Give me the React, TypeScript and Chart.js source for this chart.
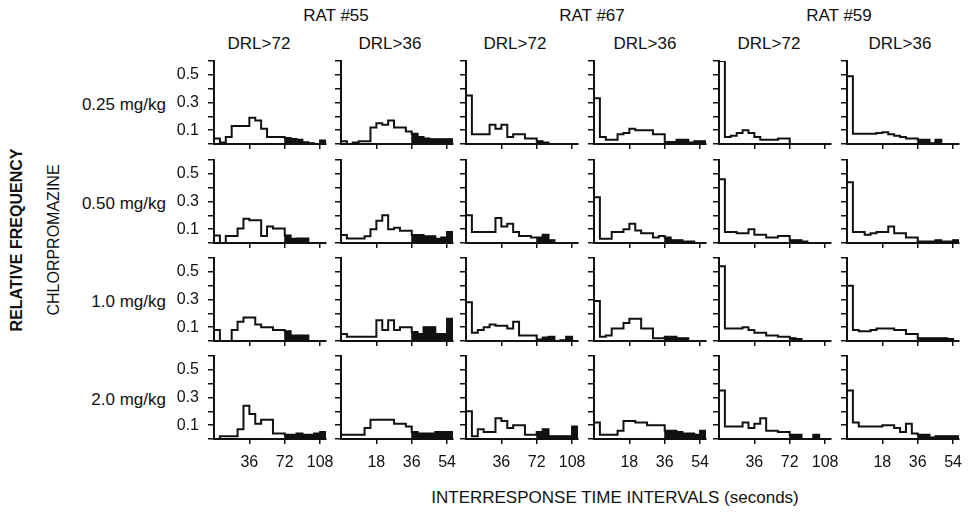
import React, { useEffect, useRef } from 'react';
import { Chart, registerables } from 'chart.js';

Chart.register(...registerables);

// ---------- categories & labels ----------
const RATS = ['RAT #55', 'RAT #67', 'RAT #59'];
const SCHEDULES = ['DRL>72', 'DRL>36', 'DRL>72', 'DRL>36', 'DRL>72', 'DRL>36'];
const DOSES = ['0.25 mg/kg', '0.50 mg/kg', '1.0 mg/kg', '2.0 mg/kg'];
const Y_TICK_LABELS = [0.1, 0.3, 0.5];
const Y_TICKS = [0, 0.1, 0.2, 0.3, 0.4, 0.5, 0.6];
const X_TICKS_72 = [36, 72, 108];
const X_TICKS_36 = [18, 36, 54];
const BIN_72 = 6; // seconds per bin, DRL>72
const BIN_36 = 3; // seconds per bin, DRL>36
const REINFORCED_FROM_BIN = 12; // bins at/after the DRL value are filled
const X_TITLE = 'INTERRESPONSE TIME INTERVALS (seconds)';
const Y_TITLE = 'RELATIVE FREQUENCY';
const DRUG = 'CHLORPROMAZINE';

// ---------- relative frequencies (19 bins each) ----------
// 0.25 mg/kg
const R55_72_D1 = [0.04, 0.01, 0.05, 0.13, 0.13, 0.13, 0.19, 0.17, 0.11, 0.05, 0.05, 0.05, 0.043, 0.036, 0.03, 0.012, 0.005, 0, 0.025];
const R55_36_D1 = [0.02, 0, 0.01, 0.02, 0.02, 0.12, 0.15, 0.14, 0.17, 0.12, 0.12, 0.09, 0.075, 0.05, 0.04, 0.035, 0.035, 0.035, 0.035];
const R67_72_D1 = [0.35, 0.07, 0.07, 0.07, 0.14, 0.11, 0.14, 0.05, 0.07, 0.07, 0.04, 0.04, 0.02, 0.01, 0, 0, 0, 0, 0];
const R67_36_D1 = [0.33, 0.05, 0.03, 0.03, 0.07, 0.08, 0.11, 0.1, 0.1, 0.1, 0.07, 0.07, 0.015, 0.015, 0.03, 0.03, 0.01, 0.02, 0.02];
const R59_72_D1 = [0.6, 0.05, 0.06, 0.08, 0.1, 0.08, 0.05, 0.03, 0.03, 0.03, 0.04, 0.04, 0, 0, 0, 0, 0, 0, 0];
const R59_36_D1 = [0.49, 0.075, 0.075, 0.075, 0.075, 0.08, 0.085, 0.07, 0.06, 0.05, 0.04, 0.04, 0.03, 0.03, 0.005, 0.03, 0, 0, 0];
// 0.50 mg/kg
const R55_72_D2 = [0.055, 0, 0.05, 0.05, 0.105, 0.175, 0.165, 0.165, 0.05, 0.12, 0.105, 0.105, 0.055, 0.03, 0.033, 0.033, 0, 0, 0];
const R55_36_D2 = [0.057, 0.033, 0.033, 0.033, 0.048, 0.1, 0.16, 0.2, 0.1, 0.11, 0.088, 0.088, 0.057, 0.057, 0.048, 0.048, 0.03, 0.04, 0.08];
const R67_72_D2 = [0.2, 0.08, 0.08, 0.08, 0.08, 0.18, 0.12, 0.14, 0.08, 0.05, 0.05, 0.04, 0.04, 0.06, 0.02, 0, 0, 0, 0];
const R67_36_D2 = [0.33, 0.03, 0.03, 0.08, 0.08, 0.1, 0.14, 0.09, 0.07, 0.07, 0.04, 0.05, 0.04, 0.02, 0.02, 0.01, 0.01, 0, 0];
const R59_72_D2 = [0.46, 0.08, 0.08, 0.07, 0.07, 0.1, 0.06, 0.06, 0.04, 0.04, 0.05, 0.05, 0.02, 0.02, 0.01, 0, 0, 0, 0];
const R59_36_D2 = [0.44, 0.08, 0.08, 0.06, 0.07, 0.08, 0.08, 0.12, 0.07, 0.07, 0.04, 0.04, 0.01, 0.01, 0.01, 0.02, 0.01, 0.01, 0.02];
// 1.0 mg/kg
const R55_72_D3 = [0.08, 0, 0, 0.08, 0.14, 0.17, 0.17, 0.12, 0.1, 0.1, 0.08, 0.08, 0.07, 0.04, 0.04, 0.04, 0, 0, 0];
const R55_36_D3 = [0.05, 0.03, 0.03, 0.03, 0.03, 0.03, 0.15, 0.08, 0.15, 0.08, 0.1, 0.1, 0.065, 0.05, 0.1, 0.1, 0.05, 0.05, 0.16];
const R67_72_D3 = [0.28, 0.06, 0.08, 0.1, 0.12, 0.11, 0.11, 0.09, 0.14, 0.04, 0.04, 0.04, 0.01, 0.025, 0.03, 0, 0.005, 0.03, 0];
const R67_36_D3 = [0.29, 0.03, 0.04, 0.09, 0.09, 0.13, 0.16, 0.16, 0.09, 0.09, 0.02, 0.02, 0.03, 0.03, 0.02, 0.02, 0, 0, 0];
const R59_72_D3 = [0.54, 0.09, 0.09, 0.09, 0.1, 0.08, 0.06, 0.06, 0.04, 0.04, 0.03, 0.03, 0.02, 0.015, 0, 0, 0, 0, 0];
const R59_36_D3 = [0.4, 0.08, 0.07, 0.07, 0.08, 0.09, 0.09, 0.09, 0.08, 0.08, 0.05, 0.05, 0.02, 0.02, 0.02, 0.02, 0.02, 0.015, 0];
// 2.0 mg/kg
const R55_72_D4 = [0, 0.02, 0.02, 0.02, 0.07, 0.24, 0.18, 0.11, 0.14, 0.14, 0.04, 0.04, 0.03, 0.03, 0.04, 0.03, 0.03, 0.04, 0.05];
const R55_36_D4 = [0.03, 0.03, 0.03, 0.03, 0.08, 0.14, 0.14, 0.14, 0.14, 0.11, 0.11, 0.09, 0.05, 0.04, 0.04, 0.04, 0.05, 0.05, 0.05];
const R67_72_D4 = [0.2, 0.02, 0.07, 0.05, 0.05, 0.15, 0.13, 0.08, 0.1, 0.1, 0.03, 0.03, 0.05, 0.07, 0.02, 0.02, 0.02, 0.02, 0.09];
const R67_36_D4 = [0.12, 0.03, 0.03, 0.03, 0.06, 0.13, 0.13, 0.12, 0.12, 0.1, 0.1, 0.1, 0.06, 0.06, 0.05, 0.04, 0.04, 0.03, 0.06];
const R59_72_D4 = [0.35, 0.09, 0.09, 0.09, 0.12, 0.08, 0.11, 0.15, 0.06, 0.06, 0.05, 0.05, 0.03, 0.03, 0, 0, 0.03, 0, 0];
const R59_36_D4 = [0.35, 0.12, 0.09, 0.09, 0.09, 0.09, 0.1, 0.1, 0.08, 0.05, 0.11, 0.04, 0.03, 0.03, 0.01, 0.02, 0.02, 0.02, 0.02];

const PANELS = [
  [R55_72_D1, R55_36_D1, R67_72_D1, R67_36_D1, R59_72_D1, R59_36_D1],
  [R55_72_D2, R55_36_D2, R67_72_D2, R67_36_D2, R59_72_D2, R59_36_D2],
  [R55_72_D3, R55_36_D3, R67_72_D3, R67_36_D3, R59_72_D3, R59_36_D3],
  [R55_72_D4, R55_36_D4, R67_72_D4, R67_36_D4, R59_72_D4, R59_36_D4],
];

// ---------- layout ----------
const COL_X = [214, 341, 466, 594, 719, 847];
const ROW_Y = [61, 160, 258, 356];
const PLOT_W = 112;
const PLOT_H = 83;
const YW = 46;
const XH = 34;
const PAD_T = 8;
const PAD_R = 14;
const FONT = '"Liberation Sans", Arial, Helvetica, sans-serif';
const INK = '#111';

type PanelProps = {
  values: number[];
  wide: boolean;
  showY: boolean;
  showX: boolean;
  left: number;
  top: number;
};

function Panel({ values, wide, showY, showX, left, top }: PanelProps) {
  const ref = useRef<HTMLCanvasElement | null>(null);
  useEffect(() => {
    if (!ref.current) return;
    const bw = wide ? BIN_72 : BIN_36;
    const xTicks = wide ? X_TICKS_72 : X_TICKS_36;
    const n = values.length;
    const outline: { x: number; y: number }[] = [{ x: 0, y: 0 }];
    values.forEach((v, i) => outline.push({ x: i * bw, y: v }));
    outline.push({ x: n * bw, y: values[n - 1] });
    outline.push({ x: n * bw, y: 0 });

    const filled: { x: number; y: number }[] = [{ x: REINFORCED_FROM_BIN * bw, y: 0 }];
    for (let i = REINFORCED_FROM_BIN; i < n; i++) filled.push({ x: i * bw, y: values[i] });
    filled.push({ x: n * bw, y: values[n - 1] });
    filled.push({ x: n * bw, y: 0 });

    const chart = new Chart(ref.current, {
      type: 'line',
      data: {
        datasets: [
          {
            data: outline,
            stepped: true,
            borderColor: INK,
            borderWidth: 2,
            pointRadius: 0,
            fill: false,
          },
          {
            data: filled,
            stepped: true,
            borderColor: INK,
            borderWidth: 1,
            backgroundColor: INK,
            pointRadius: 0,
            fill: 'origin',
          },
        ],
      },
      options: {
        animation: false,
        responsive: false,
        maintainAspectRatio: false,
        events: [],
        layout: { padding: { top: PAD_T, right: PAD_R, left: 0, bottom: 0 } },
        plugins: { legend: { display: false }, tooltip: { enabled: false }, title: { display: false } },
        scales: {
          x: {
            type: 'linear',
            min: 0,
            max: n * bw,
            afterBuildTicks: (s: any) => {
              s.ticks = xTicks.map((v) => ({ value: v }));
            },
            afterFit: (s: any) => {
              s.height = XH;
              s.paddingLeft = 0;
              s.paddingRight = 0;
            },
            grid: { display: true, drawOnChartArea: false, drawTicks: true, tickLength: 5, color: INK, lineWidth: 1.5 },
            border: { display: true, color: INK, width: 2 },
            ticks: {
              autoSkip: false,
              maxRotation: 0,
              padding: 9,
              color: INK,
              font: { family: FONT, size: 16 },
              callback: (v: any) => (showX ? String(v) : ''),
            },
          },
          y: {
            type: 'linear',
            min: 0,
            max: 0.6,
            afterBuildTicks: (s: any) => {
              s.ticks = Y_TICKS.map((v) => ({ value: v }));
            },
            afterFit: (s: any) => {
              s.width = YW;
              s.paddingTop = 0;
              s.paddingBottom = 0;
            },
            grid: { display: true, drawOnChartArea: false, drawTicks: true, tickLength: 6, color: INK, lineWidth: 1.5 },
            border: { display: true, color: INK, width: 2 },
            ticks: {
              autoSkip: false,
              padding: 9,
              color: INK,
              font: { family: FONT, size: 16 },
              callback: (v: any) => {
                const r = Math.round(Number(v) * 10) / 10;
                return showY && Y_TICK_LABELS.includes(r) ? r.toFixed(1) : '';
              },
            },
          },
        },
      },
    } as any);
    return () => chart.destroy();
  }, [values, wide, showY, showX]);

  const w = YW + PLOT_W + PAD_R;
  const h = PAD_T + PLOT_H + XH;
  return (
    <canvas
      ref={ref}
      width={w}
      height={h}
      style={{ position: 'absolute', left: left - YW, top: top - PAD_T, width: w, height: h }}
    />
  );
}

const txt = (extra: React.CSSProperties): React.CSSProperties => ({
  position: 'absolute',
  fontFamily: FONT,
  fontSize: 16,
  color: INK,
  whiteSpace: 'nowrap',
  lineHeight: 1,
  ...extra,
});

export default function App() {
  const ratCenters = [336, 592, 839];
  const schedCenters = [259, 390, 515, 645, 769, 900];
  return (
    <div style={{ position: 'absolute', left: 0, top: 0, width: 976, height: 516, background: '#fff', overflow: 'hidden' }}>
      {RATS.map((r, i) => (
        <div key={r} style={txt({ left: ratCenters[i], top: 15, transform: 'translate(-50%, -50%)', fontSize: 17 })}>
          {r}
        </div>
      ))}
      {SCHEDULES.map((s, i) => (
        <div key={i} style={txt({ left: schedCenters[i], top: 43, transform: 'translate(-50%, -50%)', fontSize: 17 })}>
          {s}
        </div>
      ))}
      {DOSES.map((d, i) => (
        <div
          key={d}
          style={txt({ right: 976 - 166, top: ROW_Y[i] + PLOT_H * 0.5 + 1, transform: 'translateY(-50%)', fontSize: 17 })}
        >
          {d}
        </div>
      ))}
      <div style={txt({ left: 17, top: 240, transform: 'translate(-50%, -50%) rotate(-90deg)', fontWeight: 'bold' })}>
        {Y_TITLE}
      </div>
      <div style={txt({ left: 54, top: 240, transform: 'translate(-50%, -50%) rotate(-90deg)' })}>{DRUG}</div>
      <div style={txt({ left: 615, top: 497, transform: 'translate(-50%, -50%)', fontSize: 17 })}>{X_TITLE}</div>
      {PANELS.map((row, r) =>
        row.map((vals, c) => (
          <Panel
            key={`${r}-${c}`}
            values={vals}
            wide={c % 2 === 0}
            showY={c === 0}
            showX={r === PANELS.length - 1}
            left={COL_X[c]}
            top={ROW_Y[r]}
          />
        ))
      )}
    </div>
  );
}
